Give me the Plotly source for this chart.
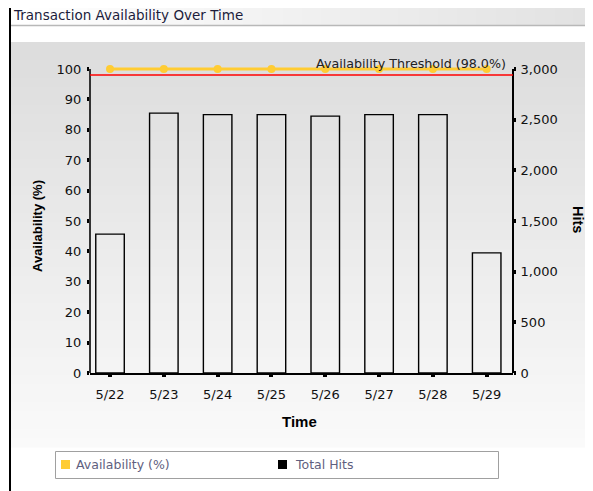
import plotly.graph_objects as go

# ---------------- data ----------------
dates = ["5/22", "5/23", "5/24", "5/25", "5/26", "5/27", "5/28", "5/29"]
availability = [100, 100, 100, 100, 100, 100, 100, 100]
total_hits = [1370, 2565, 2550, 2550, 2535, 2550, 2550, 1185]
threshold = 98.0
series_names = ["Availability (%)", "Total Hits"]
series_colors = ["#ffcc33", "#000000"]
left_ticks = list(range(0, 101, 10))
right_ticks = list(range(0, 3001, 500))
left_max, right_max = 100, 3000

# ---------------- layout geometry ----------------
# the page body has an 8px margin, so the figure is drawn 8px smaller and
# every reference pixel position is shifted by OFF
OFF = 8
W, H = 593 - OFF, 491 - OFF
AX_TOP = 69          # reference pixel of the 100 / 3,000 ticks
TOP_PAD = 6          # extra room above so the line at 100 is not clipped
PLOT_L, PLOT_R, PLOT_T, PLOT_B = 90, 513, AX_TOP - TOP_PAD, 373
L = PLOT_L - OFF
R = W - (PLOT_R - OFF)
T = PLOT_T - OFF
B = H - (PLOT_B - OFF)
PW, PH = W - L - R, H - T - B
pad_frac = TOP_PAD / (PLOT_B - AX_TOP)
y_top = left_max * (1 + pad_frac)
y2_top = right_max * (1 + pad_frac)


def px_x(x):
    return (x - OFF - L) / PW


def px_y(y):
    return (H - B - (y - OFF)) / PH


fig = go.Figure()

fig.add_trace(go.Bar(
    x=dates, y=total_hits, name=series_names[1], yaxis="y2",
    width=0.53, marker=dict(color="rgba(255,255,255,0)", line=dict(color="#000000", width=1.4)),
    showlegend=False,
))
fig.add_trace(go.Scatter(
    x=dates, y=availability, name=series_names[0], mode="lines+markers",
    line=dict(color=series_colors[0], width=3),
    marker=dict(color=series_colors[0], size=8, symbol="circle"),
    cliponaxis=False, showlegend=False,
))

shapes = []
# background gradient (plot region)
y0, y1 = 42, 447
n = 45
for i in range(n):
    a = y0 + (y1 - y0) * i / n
    b = y0 + (y1 - y0) * (i + 1) / n + 0.6
    t = i / (n - 1)
    c = int(221 + (250 - 221) * t)
    shapes.append(dict(type="rect", xref="paper", yref="paper", layer="below",
                       x0=px_x(10), x1=px_x(600), y0=px_y(a), y1=px_y(b),
                       fillcolor=f"rgb({c},{c},{c})", line=dict(width=0)))
# title bar gradient
nb = 30
for i in range(nb):
    xa = 10 + (593 - 10) * i / nb
    xb = 10 + (593 - 10) * (i + 1) / nb + 0.6
    t = i / (nb - 1)
    c = int(255 - (255 - 226) * t)
    shapes.append(dict(type="rect", xref="paper", yref="paper", layer="below",
                       x0=px_x(xa), x1=px_x(xb), y0=px_y(4), y1=px_y(25),
                       fillcolor=f"rgb({c},{c},{c})", line=dict(width=0)))
# title bar bottom line
shapes.append(dict(type="line", xref="paper", yref="paper", layer="below",
                   x0=px_x(10), x1=px_x(600), y0=px_y(25.5), y1=px_y(25.5),
                   line=dict(color="#b8b8b8", width=1.5)))
# frame lines
shapes.append(dict(type="line", xref="paper", yref="paper", layer="above",
                   x0=px_x(9), x1=px_x(600), y0=px_y(3), y1=px_y(3),
                   line=dict(color="#000000", width=2)))
shapes.append(dict(type="line", xref="paper", yref="paper", layer="above",
                   x0=px_x(10), x1=px_x(10), y0=px_y(2), y1=px_y(500),
                   line=dict(color="#000000", width=2)))
# vertical axis lines (left and right), from 0 to the top tick
shapes.append(dict(type="line", xref="paper", yref="y", layer="above",
                   x0=0, x1=0, y0=0, y1=left_max, line=dict(color="#333333", width=2)))
shapes.append(dict(type="line", xref="paper", yref="y", layer="above",
                   x0=1, x1=1, y0=0, y1=left_max, line=dict(color="#000000", width=2)))
# threshold line
shapes.append(dict(type="line", xref="paper", yref="y", layer="above",
                   x0=0, x1=1, y0=threshold, y1=threshold,
                   line=dict(color="#ff0000", width=1.5)))
# legend box
shapes.append(dict(type="rect", xref="paper", yref="paper", layer="above",
                   x0=px_x(55.5), x1=px_x(498.5), y0=px_y(451.5), y1=px_y(478.5),
                   fillcolor="#ffffff", line=dict(color="#a0a0a0", width=1)))
legend_sym_x = [61, 278]
legend_txt_x = [74, 293]
for i in range(2):
    shapes.append(dict(type="rect", xref="paper", yref="paper", layer="above",
                       x0=px_x(legend_sym_x[i]), x1=px_x(legend_sym_x[i] + 9),
                       y0=px_y(460), y1=px_y(469),
                       fillcolor=series_colors[i], line=dict(width=0)))

annotations = [
    dict(text="Transaction Availability Over Time", xref="paper", yref="paper",
         x=px_x(11), y=px_y(15), xanchor="left", yanchor="middle", showarrow=False,
         font=dict(family="DejaVu Sans", size=13.5, color="#1c1c3c")),
    dict(text=f"Availability Threshold ({threshold:.1f}%)", xref="paper", yref="paper",
         x=px_x(508), y=px_y(63), xanchor="right", yanchor="middle", showarrow=False,
         font=dict(family="DejaVu Sans", size=12.7, color="#222222")),
    dict(text="Availability (%)", xref="paper", yref="paper", textangle=-90,
         x=px_x(37), y=px_y(226), xanchor="center", yanchor="middle", showarrow=False,
         font=dict(family="Liberation Sans", size=13, color="#000000", weight="bold")),
    dict(text="Hits", xref="paper", yref="paper", textangle=90,
         x=px_x(578), y=px_y(219), xanchor="center", yanchor="middle", showarrow=False,
         font=dict(family="Liberation Sans", size=14.5, color="#000000", weight="bold")),
    dict(text="Time", xref="paper", yref="paper",
         x=px_x(299), y=px_y(422), xanchor="center", yanchor="middle", showarrow=False,
         font=dict(family="Liberation Sans", size=15, color="#000000", weight="bold")),
]
for i in range(2):
    annotations.append(dict(text=series_names[i], xref="paper", yref="paper",
                            x=px_x(legend_txt_x[i]), y=px_y(464.5), xanchor="left", yanchor="middle",
                            showarrow=False,
                            font=dict(family="DejaVu Sans", size=12.5, color="#5f5f80")))

tickfont = dict(family="DejaVu Sans", size=13, color="#111111")

fig.update_layout(
    width=W, height=H, autosize=False,
    margin=dict(l=L, r=R, t=T, b=B, pad=0),
    paper_bgcolor="#ffffff", plot_bgcolor="rgba(0,0,0,0)",
    showlegend=False,
    shapes=shapes, annotations=annotations,
    xaxis=dict(type="category", range=[-0.372, 7.489], showgrid=False, zeroline=False,
               showline=True, linecolor="#000000", linewidth=2,
               ticks="outside", ticklen=2, tickwidth=4, tickcolor="#000000",
               tickfont=tickfont, ticklabelstandoff=6),
    yaxis=dict(range=[0, y_top], tickvals=left_ticks, showgrid=False, zeroline=False,
               showline=False,
               ticks="outside", ticklen=2, tickwidth=4, tickcolor="#000000",
               tickfont=tickfont, ticklabelstandoff=3),
    yaxis2=dict(range=[0, y2_top], tickvals=right_ticks, overlaying="y", side="right",
                showgrid=False, zeroline=False, tickformat=",d",
                showline=False,
                ticks="outside", ticklen=2, tickwidth=4, tickcolor="#000000",
                tickfont=tickfont, ticklabelstandoff=2),
)

fig.write_html("out.html")
